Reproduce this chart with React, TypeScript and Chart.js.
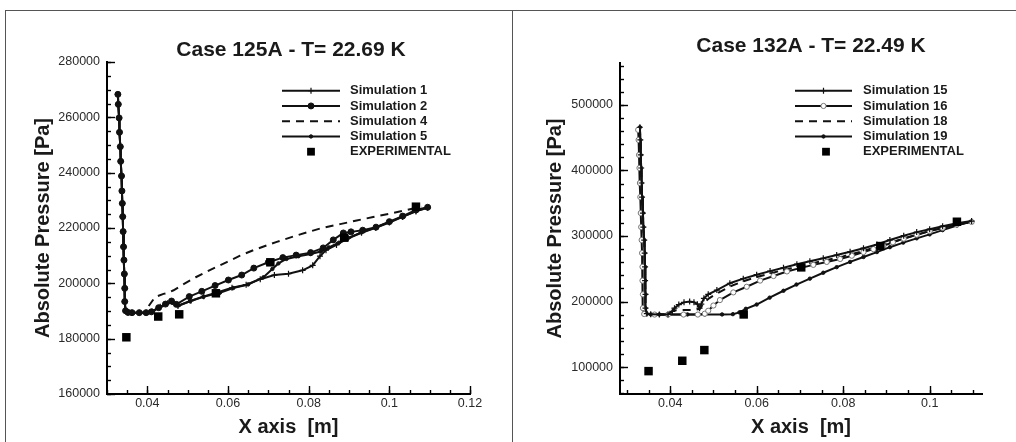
import React, { useEffect, useRef } from "react";
import { Chart, registerables } from "chart.js";
import { drawPoint } from "chart.js/helpers";

Chart.register(...registerables);

const FONT = "'Liberation Sans', Arial, Helvetica, sans-serif";

type P = [number, number];

// ---------------- Case 125A (left panel) ----------------
const leftTitle = "Case 125A - T= 22.69 K";
const leftXTicks = [0.04, 0.06, 0.08, 0.1, 0.12];
const leftYTicks = [160000, 180000, 200000, 220000, 240000, 260000, 280000];
const leftSeriesNames = ["Simulation 1", "Simulation 2", "Simulation 4", "Simulation 5", "EXPERIMENTAL"];

const leftDrop: P[] = [
  [0.0327, 268300], [0.0328, 264700], [0.033, 259800], [0.0331, 254600], [0.0333, 249400],
  [0.0334, 244100], [0.0336, 238800], [0.0337, 233400], [0.0338, 228900], [0.0339, 224100],
  [0.034, 218700], [0.0341, 213200], [0.0342, 208400], [0.0343, 203400], [0.0344, 198200],
  [0.0344, 193400], [0.0346, 190100], [0.0352, 189500], [0.0362, 189400], [0.038, 189400],
  [0.0397, 189400],
];
const sim1: P[] = [
  [0.0412, 189800], [0.0432, 191500], [0.045, 192800], [0.0462, 193300], [0.0476, 191800],
  [0.0508, 193700], [0.054, 195300], [0.0575, 196800], [0.061, 198400], [0.0645, 199500],
  [0.068, 201500], [0.0715, 203000], [0.075, 203500], [0.0785, 204700], [0.081, 206500],
  [0.0828, 209800], [0.0843, 212000], [0.0869, 213900], [0.0898, 216300], [0.0931, 218300],
  [0.0966, 220100], [0.1, 222000], [0.1033, 224000], [0.1066, 226000], [0.1095, 227300],
];
const sim2: P[] = [
  [0.041, 189700], [0.0428, 191200], [0.0445, 192500], [0.046, 193600], [0.0472, 192400],
  [0.0504, 195200], [0.0535, 197100], [0.0568, 199200], [0.0601, 201200], [0.0634, 203000],
  [0.0664, 205500], [0.07, 207600], [0.0736, 209300], [0.0769, 210200], [0.0805, 211100],
  [0.0836, 212800], [0.0861, 215700], [0.0886, 218200], [0.0905, 218600], [0.0934, 219200],
  [0.0967, 220300], [0.1, 222300], [0.1033, 224300], [0.1066, 226500], [0.1095, 227500],
];
const sim4: P[] = [
  [0.0402, 191500], [0.0419, 195000], [0.044, 196200], [0.045, 196500], [0.0465, 197500],
  [0.049, 199700], [0.052, 202200], [0.0555, 204800], [0.0597, 207700], [0.063, 210000],
  [0.0663, 212000], [0.0721, 215000], [0.077, 217300], [0.0828, 219800], [0.0878, 221400],
  [0.0919, 222700], [0.096, 224000], [0.1002, 225200], [0.1043, 226500], [0.108, 227700],
];
const sim5: P[] = [
  [0.0412, 189800], [0.043, 191400], [0.0448, 192600], [0.0462, 193000], [0.0477, 192000],
  [0.0506, 193500], [0.0539, 195100], [0.058, 196600], [0.0613, 198300], [0.065, 199600],
  [0.0688, 202200], [0.071, 205200], [0.0725, 207200], [0.0745, 208800], [0.0775, 209800],
  [0.0805, 210600], [0.083, 211500], [0.085, 213000], [0.0875, 214700], [0.0898, 216400],
  [0.0931, 218400], [0.0966, 220200], [0.1, 222100], [0.1033, 224100], [0.1066, 226100],
  [0.1095, 227400],
];
const expLeft: P[] = [
  [0.0348, 180500], [0.0427, 188000], [0.0479, 188800], [0.057, 196400],
  [0.0705, 207600], [0.0888, 216500], [0.1066, 227700],
];

// ---------------- Case 132A (right panel) ----------------
const rightTitle = "Case 132A - T= 22.49 K";
const rightXTicks = [0.04, 0.06, 0.08, 0.1];
const rightYTicks = [100000, 200000, 300000, 400000, 500000];
const rightSeriesNames = ["Simulation 15", "Simulation 16", "Simulation 18", "Simulation 19", "EXPERIMENTAL"];

const rightDrop: P[] = [
  [0.033, 466000], [0.0331, 446600], [0.0332, 423700], [0.0333, 403800], [0.0334, 380900],
  [0.0335, 359500], [0.0337, 335100], [0.0338, 313700], [0.034, 293900], [0.0341, 274000],
  [0.0342, 253000], [0.0342, 232000], [0.0343, 211000], [0.0343, 190000], [0.0346, 181500],
  [0.0355, 180500], [0.0375, 180400], [0.0395, 180400],
];
const sim16Drop: P[] = [
  [0.0326, 462000], [0.0327, 446600], [0.0328, 423700], [0.0329, 403800], [0.033, 380900],
  [0.0331, 359500], [0.0332, 335100], [0.0333, 313700], [0.0334, 293900], [0.0335, 274000],
  [0.0336, 253000], [0.0336, 232000], [0.0337, 211000], [0.0337, 190000], [0.034, 181000],
];
const sim15: P[] = [
  [0.0405, 185000], [0.041, 190000], [0.042, 195500], [0.0432, 198800], [0.0445, 200000],
  [0.0455, 199000], [0.0463, 196000], [0.0468, 190000], [0.0472, 196000], [0.0478, 205000],
  [0.0488, 211000], [0.0508, 217600], [0.0538, 228000], [0.0569, 235000], [0.06, 241000],
  [0.0631, 246500], [0.0662, 251500], [0.0693, 257000], [0.0723, 261500], [0.0754, 266000],
  [0.0785, 271000], [0.0816, 276000], [0.0847, 281500], [0.0878, 287000], [0.0908, 294000],
  [0.094, 300500], [0.097, 306000], [0.1, 310500], [0.103, 315000], [0.1063, 319500],
  [0.1097, 322800],
];
const sim16: P[] = [
  [0.0364, 180200], [0.0395, 180200], [0.0431, 180200], [0.0464, 180200], [0.048, 181500],
  [0.0488, 186000], [0.05, 194000], [0.0515, 202300], [0.0546, 214000], [0.0577, 222600],
  [0.0608, 232000], [0.0639, 239000], [0.067, 246000], [0.07, 251000], [0.0731, 256000],
  [0.0762, 260500], [0.0793, 265000], [0.082, 270000], [0.0847, 275500], [0.087, 280000],
  [0.0893, 285000], [0.0915, 290500], [0.094, 296000], [0.097, 302000], [0.1, 307500],
  [0.103, 312500], [0.1063, 317500], [0.1097, 321500],
];
const sim18: P[] = [
  [0.0407, 186500], [0.043, 187000], [0.0455, 187000], [0.0469, 189000], [0.0478, 198000],
  [0.049, 205000], [0.051, 213000], [0.0538, 223000], [0.0569, 231000], [0.06, 237500],
  [0.064, 244500], [0.068, 251000], [0.072, 257000], [0.076, 263000], [0.08, 269000],
  [0.084, 276000], [0.088, 284000], [0.092, 292000], [0.096, 300000], [0.1, 307500],
  [0.104, 314000], [0.108, 319500], [0.11, 321500],
];
const sim19: P[] = [
  [0.044, 180400], [0.048, 180400], [0.052, 180400], [0.0545, 180800], [0.056, 183500],
  [0.0575, 189000], [0.06, 195500], [0.063, 206000], [0.0662, 216500], [0.0692, 226000],
  [0.0723, 235000], [0.0754, 244000], [0.0785, 252500], [0.0816, 260500], [0.0847, 268000],
  [0.0878, 275500], [0.0908, 283000], [0.0939, 290000], [0.097, 296500], [0.1, 302500],
  [0.103, 309000], [0.1063, 316000], [0.1097, 322500],
];
const expRight: P[] = [
  [0.035, 93900], [0.0428, 109700], [0.0479, 126000], [0.057, 180400],
  [0.0703, 252200], [0.0886, 284700], [0.1063, 321800],
];

// ---------------- helpers ----------------
const pts = (a: P[]) => a.map(([x, y]) => ({ x, y }));

const lineDs = (label: string, data: P[], style: any) => ({
  label,
  data: pts(data),
  showLine: true,
  borderColor: "#111",
  borderWidth: 2,
  tension: 0,
  pointBorderColor: "#111",
  pointBackgroundColor: "#111",
  pointBorderWidth: 1,
  ...style,
});

const expDs = (label: string, data: P[]) => ({
  label,
  data: pts(data),
  showLine: false,
  pointStyle: "rect",
  pointRadius: 6,
  pointBackgroundColor: "#000",
  pointBorderColor: "#000",
  pointBorderWidth: 0,
  order: -1,
});

const rangeSteps = (a: number, b: number, step: number) => {
  const out: number[] = [];
  const n = Math.round((b - a) / step);
  for (let i = 0; i <= n; i++) out.push(a + i * step);
  return out;
};

const decorPlugin = {
  id: "panelDecor",
  afterDraw(chart: any, _args: any, opts: any) {
    const { ctx, chartArea } = chart;
    const xs = chart.scales.x;
    const ys = chart.scales.y;
    ctx.save();
    // inward tick marks
    ctx.strokeStyle = "#000";
    ctx.lineWidth = 1.4;
    const b = chartArea.bottom;
    const l = chartArea.left;
    const tick = (x1: number, y1: number, x2: number, y2: number) => {
      ctx.beginPath();
      ctx.moveTo(x1, y1);
      ctx.lineTo(x2, y2);
      ctx.stroke();
    };
    for (const v of opts.xMinor) {
      const p = Math.round(xs.getPixelForValue(v)) + 0.5;
      tick(p, b, p, b - 4);
    }
    for (const v of opts.xMajor) {
      const p = Math.round(xs.getPixelForValue(v)) + 0.5;
      tick(p, b, p, b - 8);
    }
    for (const v of opts.yMinor) {
      const p = Math.round(ys.getPixelForValue(v)) + 0.5;
      tick(l, p, l + 4, p);
    }
    for (const v of opts.yMajor) {
      const p = Math.round(ys.getPixelForValue(v)) + 0.5;
      tick(l, p, l + 8, p);
    }
    // title
    ctx.fillStyle = "#1a1a1a";
    ctx.font = `bold 21px ${FONT}`;
    ctx.textAlign = "center";
    ctx.textBaseline = "middle";
    ctx.fillText(opts.title, opts.titleX, opts.titleY);
    // legend
    const r = chartArea.right;
    const x0 = r + opts.lineStart;
    const x1 = r + opts.lineEnd;
    const tx = r + opts.textStart;
    chart.data.datasets.forEach((ds: any, i: number) => {
      const y = chartArea.top + opts.firstRow + i * opts.rowGap;
      const mx = ds.showLine ? (x0 + x1) / 2 : x0 + opts.squareAt;
      if (ds.showLine) {
        ctx.save();
        ctx.strokeStyle = ds.borderColor;
        ctx.lineWidth = ds.borderWidth;
        ctx.setLineDash(ds.borderDash || []);
        ctx.beginPath();
        ctx.moveTo(x0, y);
        ctx.lineTo(x1, y);
        ctx.stroke();
        ctx.restore();
      }
      if (ds.pointRadius > 0) {
        ctx.save();
        ctx.fillStyle = ds.pointBackgroundColor;
        ctx.strokeStyle = ds.pointBorderColor;
        ctx.lineWidth = ds.pointBorderWidth;
        drawPoint(
          ctx,
          { pointStyle: ds.pointStyle, radius: ds.pointStyle === "rect" ? 5.5 : ds.pointRadius, borderWidth: ds.pointBorderWidth, rotation: 0 },
          mx,
          y
        );
        ctx.restore();
      }
      ctx.fillStyle = "#1a1a1a";
      ctx.font = `bold 13px ${FONT}`;
      ctx.textAlign = "left";
      ctx.textBaseline = "middle";
      ctx.fillText(ds.label, tx, y);
    });
    ctx.restore();
  },
};

const fmtX = (v: any) => String(Number(Number(v).toFixed(3)));
const fmtY = (v: any) => String(Math.round(Number(v)));

function makeConfig(p: any) {
  return {
    type: "scatter",
    data: { datasets: p.datasets },
    plugins: [decorPlugin],
    options: {
      animation: false,
      responsive: false,
      devicePixelRatio: 1,
      events: [],
      layout: { padding: { top: p.top, right: p.right, left: 0, bottom: 0 } },
      elements: { line: { tension: 0 } },
      plugins: {
        legend: { display: false },
        tooltip: { enabled: false },
        title: { display: false },
        panelDecor: p.decor,
      },
      scales: {
        x: {
          type: "linear",
          min: p.xMin,
          max: p.xMax,
          afterBuildTicks: (s: any) => {
            s.ticks = p.xMajor.map((v: number) => ({ value: v }));
          },
          afterFit: (s: any) => {
            s.height = 48;
          },
          grid: { display: false, drawTicks: false },
          border: { display: true, color: "#000", width: 2 },
          ticks: {
            padding: 2,
            color: "#2a2a2a",
            font: { family: FONT, size: 12.5 },
            maxRotation: 0,
            autoSkip: false,
            callback: fmtX,
          },
          title: {
            display: true,
            text: "X axis  [m]",
            color: "#1a1a1a",
            font: { family: FONT, size: 20, weight: "bold" },
            padding: { top: 0, bottom: 3 },
          },
        },
        y: {
          type: "linear",
          min: p.yMin,
          max: p.yMax,
          afterBuildTicks: (s: any) => {
            s.ticks = p.yMajor.map((v: number) => ({ value: v }));
          },
          afterFit: (s: any) => {
            s.width = p.yWidth;
          },
          grid: { display: false, drawTicks: false },
          border: { display: true, color: "#000", width: 2 },
          ticks: {
            padding: 7,
            color: "#2a2a2a",
            font: { family: FONT, size: 12.5 },
            autoSkip: false,
            callback: fmtY,
          },
          title: {
            display: true,
            text: "Absolute Pressure [Pa]",
            color: "#1a1a1a",
            font: { family: FONT, size: 20, weight: "bold" },
            padding: { top: p.yTitlePad, bottom: 0 },
          },
        },
      },
    },
  };
}

const leftPanel = {
  top: 62,
  right: 41,
  yWidth: 107,
  yTitlePad: 31.5,
  xMin: 0.03,
  xMax: 0.12,
  yMin: 160000,
  yMax: 280000,
  xMajor: leftXTicks,
  yMajor: leftYTicks,
  datasets: [
    lineDs(leftSeriesNames[0], [...leftDrop, ...sim1], { pointStyle: "cross", pointRadius: 3, pointBorderWidth: 1.2 }),
    lineDs(leftSeriesNames[1], [...leftDrop, ...sim2], { pointStyle: "circle", pointRadius: 3 }),
    lineDs(leftSeriesNames[2], [...leftDrop.slice(-2), ...sim4], { pointRadius: 0, borderDash: [8, 6] }),
    lineDs(leftSeriesNames[3], [...leftDrop, ...sim5], { pointStyle: "circle", pointRadius: 1.7 }),
    expDs(leftSeriesNames[4], expLeft),
  ],
  decor: {
    title: leftTitle,
    titleX: 291,
    titleY: 50.5,
    xMajor: leftXTicks,
    xMinor: rangeSteps(0.03, 0.12, 0.005),
    yMajor: leftYTicks,
    yMinor: rangeSteps(160000, 280000, 5000),
    lineStart: -188,
    lineEnd: -130,
    textStart: -120,
    squareAt: 29,
    firstRow: 28.7,
    rowGap: 15.25,
  },
};

const rightPanel = {
  top: 63,
  right: 34,
  yWidth: 109,
  yTitlePad: 32.5,
  xMin: 0.0284,
  xMax: 0.1121,
  yMin: 59000,
  yMax: 564000,
  xMajor: rightXTicks,
  yMajor: rightYTicks,
  datasets: [
    lineDs(rightSeriesNames[0], [...rightDrop, ...sim15], { pointStyle: "cross", pointRadius: 3, pointBorderWidth: 1.2 }),
    lineDs(rightSeriesNames[1], [...sim16Drop, ...sim16], {
      pointStyle: "circle",
      pointRadius: 2.6,
      pointBackgroundColor: "#fff",
      pointBorderColor: "#777",
      pointBorderWidth: 1,
    }),
    lineDs(rightSeriesNames[2], [...rightDrop, ...sim18], { pointRadius: 0, borderDash: [8, 6] }),
    lineDs(rightSeriesNames[3], [...rightDrop, ...sim19], { pointStyle: "circle", pointRadius: 1.7 }),
    expDs(rightSeriesNames[4], expRight),
  ],
  decor: {
    title: rightTitle,
    titleX: 300,
    titleY: 46.5,
    xMajor: rightXTicks,
    xMinor: rangeSteps(0.03, 0.11, 0.005),
    yMajor: rightYTicks,
    yMinor: rangeSteps(60000, 560000, 20000),
    lineStart: -187,
    lineEnd: -130,
    textStart: -119,
    squareAt: 31,
    firstRow: 27.7,
    rowGap: 15.25,
  },
};

function Panel({ cfg, left, width }: { cfg: any; left: number; width: number }) {
  const ref = useRef<HTMLCanvasElement | null>(null);
  useEffect(() => {
    if (!ref.current) return;
    const chart = new Chart(ref.current, makeConfig(cfg) as any);
    return () => chart.destroy();
  }, [cfg]);
  return (
    <canvas
      ref={ref}
      width={width}
      height={442}
      style={{ position: "absolute", left, top: 0, width, height: 442, display: "block" }}
    />
  );
}

export default function App() {
  return (
    <div
      style={{
        position: "fixed",
        left: 0,
        top: 0,
        width: 1016,
        height: 442,
        background: "#fff",
        overflow: "hidden",
      }}
    >
      <div style={{ position: "absolute", left: 5, top: 10, width: 1011, height: 1, background: "#555" }} />
      <div style={{ position: "absolute", left: 5, top: 10, width: 1, height: 432, background: "#555" }} />
      <div style={{ position: "absolute", left: 512, top: 10, width: 1, height: 432, background: "#555" }} />
      <Panel cfg={leftPanel} left={0} width={511} />
      <Panel cfg={rightPanel} left={511} width={505} />
    </div>
  );
}
